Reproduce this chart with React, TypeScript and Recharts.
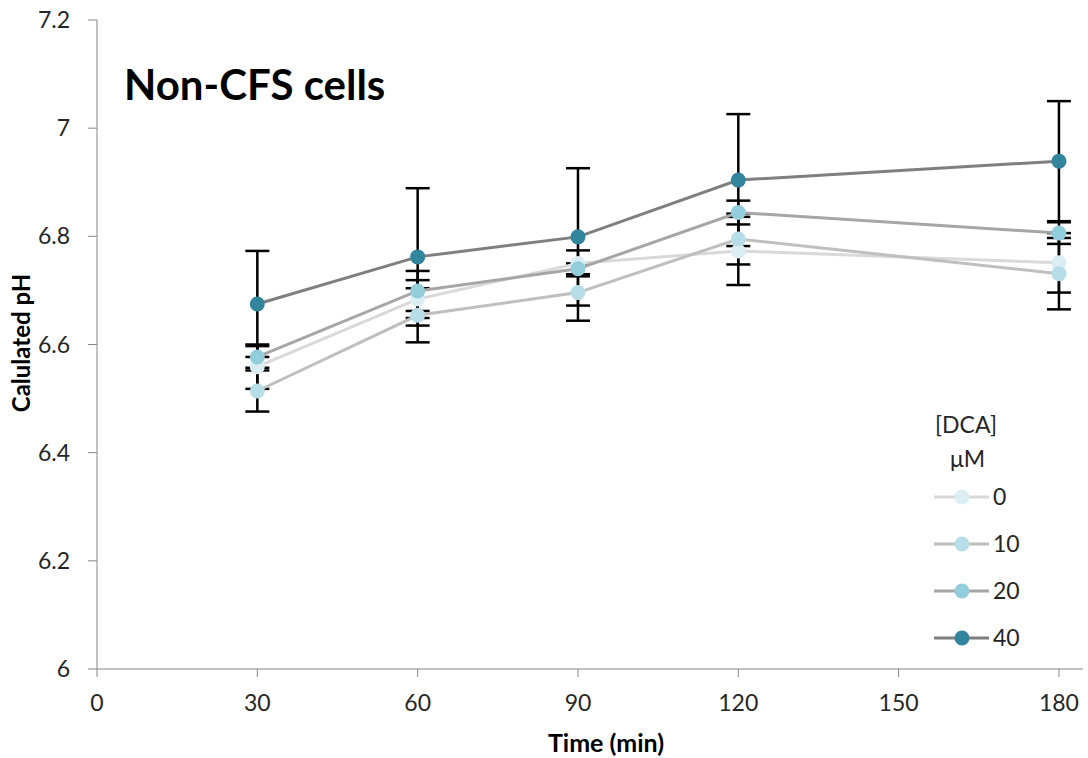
import React from 'react';
import { LineChart, Line, XAxis, YAxis, ErrorBar, Legend } from 'recharts';

const FONT = 'Lato, "Open Sans", sans-serif';
const AXIS = '#868686';
const TEXT = '#262626';

// time points (min)
const TIMES = [30, 60, 90, 120, 180];

// calculated pH per [DCA] level
const PH_0 = [6.559, 6.684, 6.750, 6.773, 6.751];
const PH_10 = [6.514, 6.654, 6.696, 6.795, 6.731];
const PH_20 = [6.577, 6.699, 6.740, 6.844, 6.806];
const PH_40 = [6.675, 6.762, 6.799, 6.904, 6.939];

// error bar half-widths
const ERR_0 = [0.041, 0.035, 0.024, 0.063, 0.055];
const ERR_10 = [0.038, 0.05, 0.052, 0.047, 0.066];
const ERR_20 = [0.02, 0.037, 0.01, 0.022, 0.02];
const ERR_40 = [0.098, 0.127, 0.127, 0.122, 0.111];

const X_TICKS = [0, 30, 60, 90, 120, 150, 180];
const Y_TICKS = [6, 6.2, 6.4, 6.6, 6.8, 7, 7.2];

const SERIES = [
  { key: '0', values: PH_0, errors: ERR_0, line: '#d9d9d9', marker: '#dbeef3' },
  { key: '10', values: PH_10, errors: ERR_10, line: '#bfbfbf', marker: '#b7dee8' },
  { key: '20', values: PH_20, errors: ERR_20, line: '#a6a6a6', marker: '#92cddc' },
  { key: '40', values: PH_40, errors: ERR_40, line: '#7f7f7f', marker: '#31859c' },
];

const data = TIMES.map((t, i) => {
  const row: any = { time: t };
  SERIES.forEach(s => {
    row[`ph${s.key}`] = s.values[i];
    row[`err${s.key}`] = s.errors[i];
  });
  return row;
});

const DcaLegend = () => (
  <svg width={160} height={260} style={{ fontFamily: FONT, fontSize: 23 }}>
    <text x={15} y={33} fill={TEXT}>[DCA]</text>
    <text x={30} y={67} fill={TEXT}>μM</text>
    {SERIES.map((s, i) => {
      const cy = 97 + i * 47;
      return (
        <g key={s.key}>
          <line x1={14} x2={69} y1={cy} y2={cy} stroke={s.line} strokeWidth={3} />
          <circle cx={42} cy={cy} r={7.5} fill={s.marker} />
          <text x={73} y={cy + 8} fill={TEXT}>{s.key}</text>
        </g>
      );
    })}
  </svg>
);

export default function App() {
  return (
    <div style={{ position: 'absolute', left: 0, top: 0, width: 1088, height: 758, background: '#fff' }}>
      <div style={{ position: 'absolute', left: 124, top: 63, fontFamily: FONT, fontWeight: 700, fontSize: 42, color: '#000', lineHeight: 1, zIndex: 2 }}>
        Non-CFS cells
      </div>
      <LineChart width={1088} height={758} data={data} margin={{ top: 20, right: 5, bottom: 9, left: 37 }}>
        <XAxis
          dataKey="time"
          type="number"
          domain={[0, 184.5]}
          ticks={X_TICKS}
          height={80}
          stroke={AXIS}
          tickSize={8}
          tickMargin={18}
          tick={{ fill: TEXT, fontSize: 23, fontFamily: FONT }}
          label={({ viewBox }: any) => (
            <text x={viewBox.x + viewBox.width / 2 + 16} y={752} textAnchor="middle" fill="#000" fontFamily={FONT} fontWeight={700} fontSize={25}>
              Time (min)
            </text>
          )}
        />
        <YAxis
          type="number"
          domain={[6, 7.2]}
          ticks={Y_TICKS}
          width={60}
          stroke={AXIS}
          tickSize={9}
          tickMargin={18}
          tick={{ fill: TEXT, fontSize: 23, fontFamily: FONT }}
          label={() => (
            <text x={30} y={343} transform="rotate(-90 30 343)" textAnchor="middle" fill="#000" fontFamily={FONT} fontWeight={700} fontSize={24}>
              Calulated pH
            </text>
          )}
        />
        <Legend
          layout="vertical"
          align="center"
          verticalAlign="middle"
          content={() => <DcaLegend />}
          wrapperStyle={{ left: 920, top: 400, width: 160, height: 260 }}
        />
        {SERIES.map(s => (
          <Line
            key={`err-${s.key}`}
            dataKey={`ph${s.key}`}
            stroke="none"
            dot={false}
            activeDot={false}
            legendType="none"
            isAnimationActive={false}
          >
            <ErrorBar dataKey={`err${s.key}`} width={12} strokeWidth={2.5} stroke="#000" direction="y" isAnimationActive={false} />
          </Line>
        ))}
        {SERIES.map(s => (
          <Line
            key={s.key}
            dataKey={`ph${s.key}`}
            stroke={s.line}
            strokeWidth={3}
            dot={{ r: 7.5, fill: s.marker, stroke: 'none' }}
            activeDot={false}
            isAnimationActive={false}
          />
        ))}
      </LineChart>
    </div>
  );
}
